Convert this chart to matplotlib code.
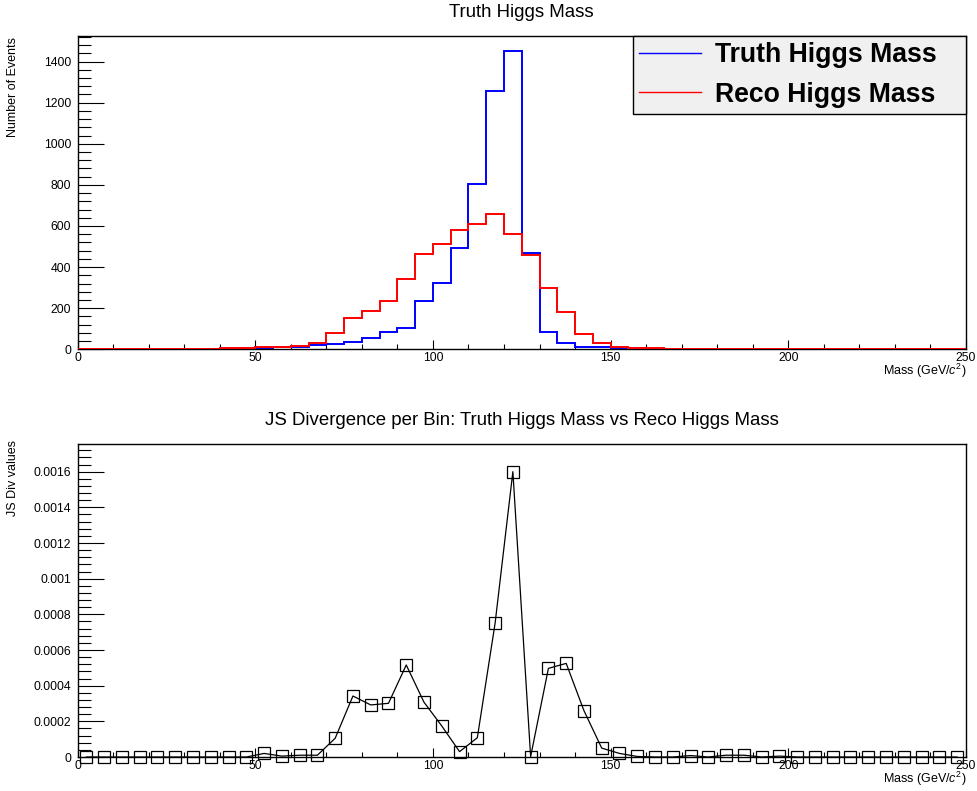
import numpy as np
import matplotlib
matplotlib.use("Agg")
import matplotlib.pyplot as plt
from matplotlib.ticker import MultipleLocator, FuncFormatter

plt.rcParams["font.family"] = ["Liberation Sans", "DejaVu Sans"]
plt.rcParams["mathtext.fontset"] = "custom"
plt.rcParams["mathtext.rm"] = "Liberation Sans"
plt.rcParams["mathtext.it"] = "Liberation Sans:italic"

# 50 bins of 5 GeV from 0 to 250
bin_edges = np.arange(0, 255, 5)
bin_centers = bin_edges[:-1] + 2.5

truth_counts = [
    0, 0, 0, 0, 0, 0, 0, 3, 4, 5,
    7, 9, 12, 20, 28, 35, 56, 85, 106, 234,
    322, 494, 802, 1259, 1449, 470, 85, 29, 10, 10,
    5, 5, 3, 3, 3, 3, 3, 3, 3, 3,
    3, 3, 0, 0, 0, 0, 0, 0, 0, 0,
]
reco_counts = [
    0, 0, 0, 0, 0, 2, 2, 2, 4, 5,
    9, 10, 16, 31, 80, 152, 185, 234, 344, 465,
    510, 580, 608, 657, 560, 460, 300, 183, 76, 29,
    13, 8, 5, 3, 3, 3, 2, 3, 2, 2,
    2, 2, 2, 2, 1, 0, 0, 0, 0, 0,
]
js_div = [
    0, 0, 0, 0, 0, 0, 0, 0, 0, 0,
    0.00002, 0.000005, 0.00001, 0.00001, 0.000105, 0.000342, 0.000292, 0.000301, 0.000516, 0.000307,
    0.000174, 0.00003, 0.000108, 0.00075, 0.0016, 0.000002, 0.000497, 0.000525, 0.00026, 0.00005,
    0.00002, 0.000003, 0, 0, 0.000008, 0, 0.00001, 0.00001, 0, 0.000005,
    0, 0, 0, 0, 0, 0, 0, 0, 0, 0,
]

W, H = 977, 791
fig = plt.figure(figsize=(W / 100, H / 100), dpi=100)


def rect(l, t, r, b):
    return [l / W, 1 - b / H, (r - l) / W, (b - t) / H]


ax1 = fig.add_axes(rect(77.5, 36, 966, 349.3))
ax2 = fig.add_axes(rect(77.5, 444, 966, 757))

# ---- top: mass histograms
ax1.stairs(truth_counts, bin_edges, color="#0000ff", lw=1.4, label="Truth Higgs Mass", zorder=2)
ax1.stairs(reco_counts, bin_edges, color="#ff0000", lw=1.4, label="Reco Higgs Mass", zorder=3)
ax1.set_xlim(0, 250)
ax1.set_ylim(0, max(truth_counts) * 1.052)
ax1.yaxis.set_major_locator(MultipleLocator(200))
ax1.yaxis.set_minor_locator(MultipleLocator(40))

# ---- bottom: JS divergence per bin
ax2.plot(bin_centers, js_div, color="black", lw=0.9, marker="s", ms=8,
         mfc="none", mec="black", mew=0.9, clip_on=False, zorder=4)
ax2.set_xlim(0, 250)
ax2.set_ylim(0, max(js_div) * 1.097)
ax2.yaxis.set_major_locator(MultipleLocator(0.0002))
ax2.yaxis.set_minor_locator(MultipleLocator(0.00004))
ax2.yaxis.set_major_formatter(FuncFormatter(lambda v, p: "%g" % round(v, 6)))

for ax in (ax1, ax2):
    ax.xaxis.set_major_locator(MultipleLocator(50))
    ax.xaxis.set_minor_locator(MultipleLocator(10))
    for s in ax.spines.values():
        s.set_linewidth(1.0)
    ax.tick_params(which="both", direction="in", top=False, right=False,
                   labelsize=8.8, width=0.8, colors="black")
    ax.tick_params(axis="y", which="major", length=18.7, pad=4.5)
    ax.tick_params(axis="y", which="minor", length=9.4)
    ax.tick_params(axis="x", which="major", length=6.3, pad=2)
    ax.tick_params(axis="x", which="minor", length=3.6)

# titles and axis labels
cx = (77.5 + 966) / 2 / W
fig.text(cx, 1 - 17.3 / H, "Truth Higgs Mass", ha="center", va="baseline", fontsize=13.4)
fig.text(cx, 1 - 425 / H, "JS Divergence per Bin: Truth Higgs Mass vs Reco Higgs Mass",
         ha="center", va="baseline", fontsize=13.4)

fig.text(13.5 / W, 1 - 37 / H, "Number of Events", rotation=90, ha="center", va="top", fontsize=9)
fig.text(13.5 / W, 1 - 440 / H, "JS Div values", rotation=90, ha="center", va="top", fontsize=9)
fig.text(966 / W, 1 - 375 / H, r"Mass (GeV/$c^{2}$)", ha="right", va="baseline", fontsize=9)
fig.text(966 / W, 1 - 783 / H, r"Mass (GeV/$c^{2}$)", ha="right", va="baseline", fontsize=9)

# legend box
x0, x1 = 633 / W, 966 / W
y1, y0 = 1 - 36 / H, 1 - 114 / H
leg = ax1.legend(loc="upper left", bbox_to_anchor=(x0, y0, x1 - x0, y1 - y0),
                 bbox_transform=fig.transFigure, mode="expand", borderaxespad=0,
                 borderpad=0.24, labelspacing=0.5, handlelength=2.3, handletextpad=0.55,
                 prop={"weight": "bold", "size": 19.2}, fancybox=False, framealpha=1,
                 facecolor="#f0f0f0", edgecolor="black")
leg.get_frame().set_linewidth(1.0)
for line in leg.get_lines():
    line.set_linewidth(1.0)

fig.savefig("out.png", dpi=100)
